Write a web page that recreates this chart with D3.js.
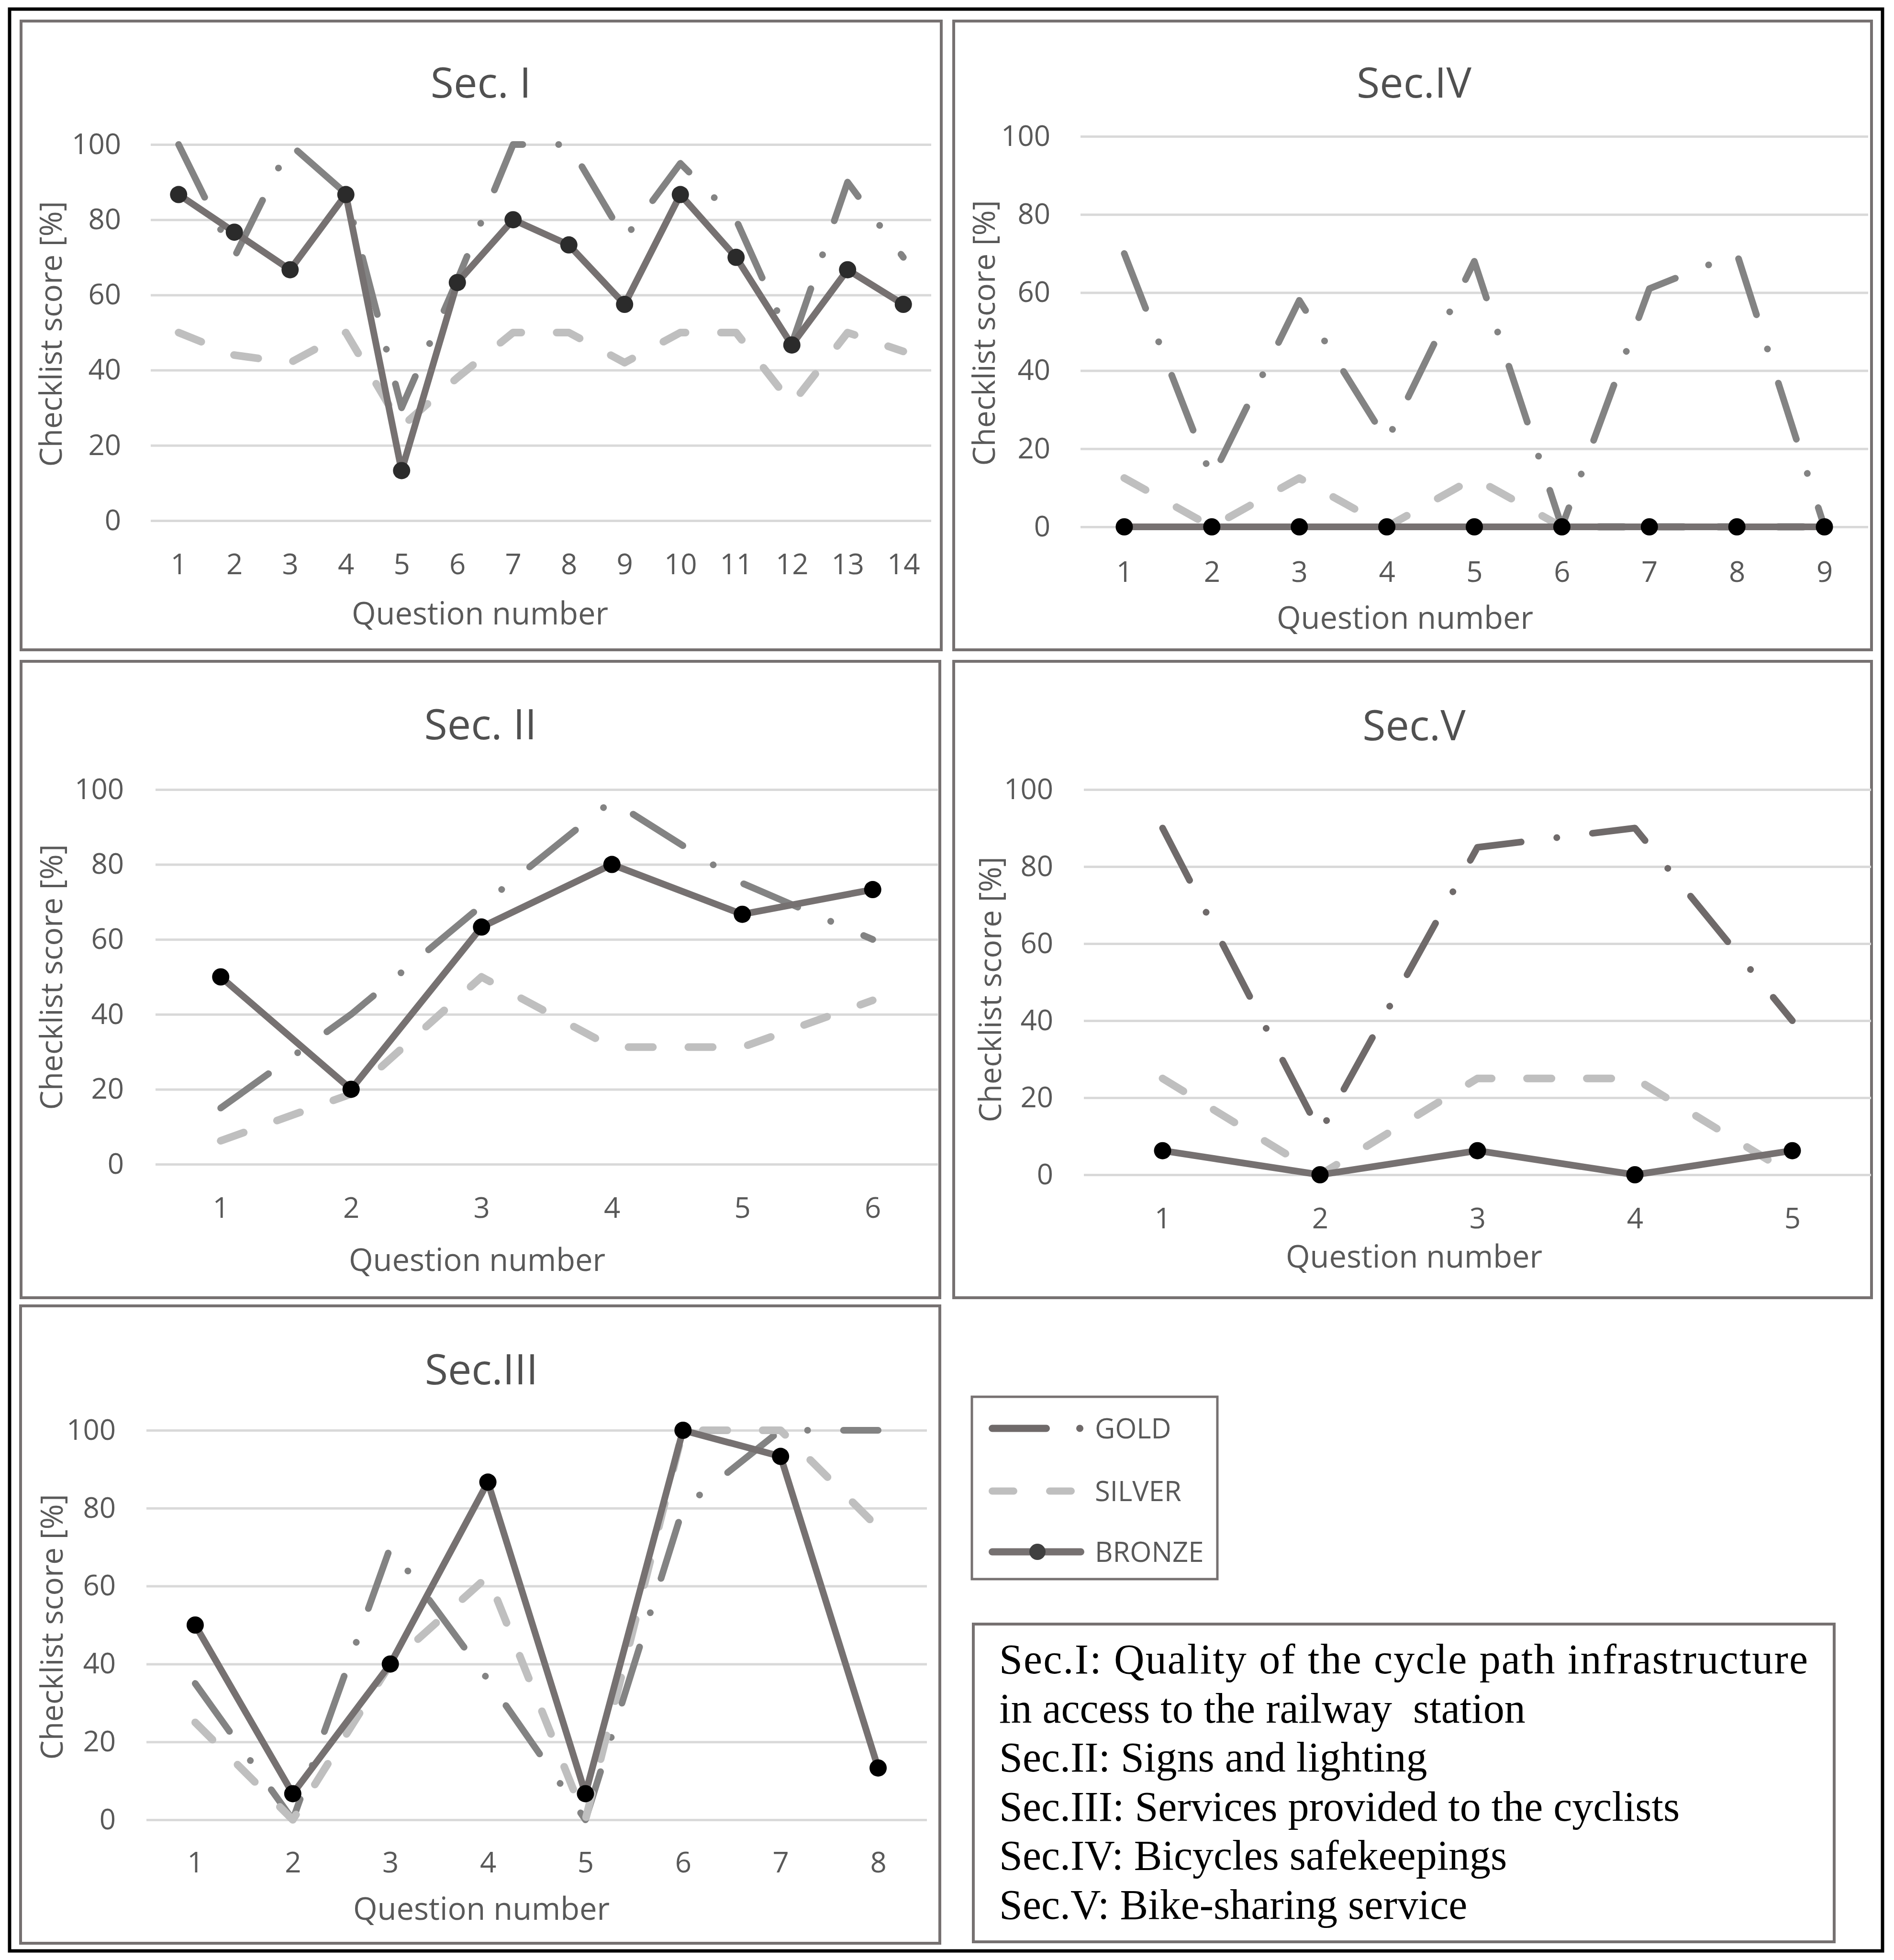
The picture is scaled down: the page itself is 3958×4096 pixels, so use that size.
<!DOCTYPE html>
<html>
<head>
<meta charset="utf-8">
<script src="https://cdn.jsdelivr.net/npm/d3@7/dist/d3.min.js"></script>
<style>
  body { margin: 0; background: #fff; }
  svg { display: block; }
</style>
</head>
<body>
<div id="chart"></div>
<script>
// values (checklist score in %)
const yTicks = [0, 20, 40, 60, 80, 100];
const seriesNames = ['GOLD', 'SILVER', 'BRONZE'];

const sec1Questions = ['1', '2', '3', '4', '5', '6', '7', '8', '9', '10', '11', '12', '13', '14'];
const sec1Gold = [100, 70, 100, 87, 30, 64, 100, 100, 75, 95, 80, 47, 90, 70];
const sec1Silver = [50, 44, 42, 50, 25, 38, 50, 50, 42, 50, 50, 31, 50, 45];
const sec1Bronze = [86.7, 76.7, 66.7, 86.7, 13.3, 63.3, 80, 73.3, 57.5, 86.7, 70, 46.7, 66.7, 57.5];

const sec2Questions = ['1', '2', '3', '4', '5', '6'];
const sec2Gold = [15, 40, 69, 97, 75, 60];
const sec2Silver = [6.25, 18.75, 50, 31.25, 31.25, 43.75];
const sec2Bronze = [50, 20, 63.3, 80, 66.7, 73.3];

const sec3Questions = ['1', '2', '3', '4', '5', '6', '7', '8'];
const sec3Gold = [35, 0, 70, 36, 0, 80, 100, 100];
const sec3Silver = [25, 0, 40, 62.5, 0, 100, 100, 75];
const sec3Bronze = [50, 6.7, 40, 86.7, 6.7, 100, 93.3, 13.3];

const sec4Questions = ['1', '2', '3', '4', '5', '6', '7', '8', '9'];
const sec4Gold = [70, 12.5, 58, 22, 68, 0, 61, 70, 0];
const sec4Silver = [12.5, 0, 12.5, 0, 12.5, 0, 0, 0, 0];
const sec4Bronze = [0, 0, 0, 0, 0, 0, 0, 0, 0];

const sec5Questions = ['1', '2', '3', '4', '5'];
const sec5Gold = [90, 11, 85, 90, 40];
const sec5Silver = [25, 0, 25, 25, 0];
const sec5Bronze = [6.25, 0, 6.25, 0, 6.25];

const descriptionLines = [
  'Sec.I: Quality of the cycle path infrastructure',
  'in access to the railway  station',
  'Sec.II: Signs and lighting',
  'Sec.III: Services provided to the cyclists',
  'Sec.IV: Bicycles safekeepings',
  'Sec.V: Bike-sharing service'
];

const width = 3958;
const height = 4096;
const labelColor = '#595959';
const frameColor = '#767171';

const svg = d3.select('#chart')
  .append('svg')
  .attr('width', width)
  .attr('height', height)
  .attr('viewBox', `0 0 ${width} ${height}`);

// outer frame
svg.append('rect')
  .attr('x', 20).attr('y', 19)
  .attr('width', 3914).attr('height', 4058)
  .attr('fill', 'none').attr('stroke', '#000').attr('stroke-width', 7);

// layout of each small chart
const panels = [
  { title: 'Sec. I', questions: sec1Questions, series: [sec1Gold, sec1Silver, sec1Bronze],
    box: [44, 44, 1967, 1358], xr: [315, 1946], yr: [302, 1088], tickRight: 253,
    xLabelY: 1178, xTitle: [1003, 1282], titleAt: [1005, 172], yTitleAt: [106, 698],
    goldColor: '#838383', dotColor: '#2b2b2b' },
  { title: 'Sec.IV', questions: sec4Questions, series: [sec4Gold, sec4Silver, sec4Bronze],
    box: [1993, 44, 3911, 1358], xr: [2258, 3904], yr: [285, 1101], tickRight: 2195,
    xLabelY: 1194, xTitle: [2936, 1291], titleAt: [2955, 172], yTitleAt: [2056, 696],
    goldColor: '#838383', dotColor: '#000' },
  { title: 'Sec. II', questions: sec2Questions, series: [sec2Gold, sec2Silver, sec2Bronze],
    box: [44, 1382, 1964, 2712], xr: [325, 1960], yr: [1650, 2433], tickRight: 259,
    xLabelY: 2523, xTitle: [997, 2633], titleAt: [1004, 1513], yTitleAt: [107, 2042],
    goldColor: '#838383', dotColor: '#000' },
  { title: 'Sec.V', questions: sec5Questions, series: [sec5Gold, sec5Silver, sec5Bronze],
    box: [1993, 1382, 3911, 2712], xr: [2265, 3910], yr: [1650, 2455], tickRight: 2201,
    xLabelY: 2545, xTitle: [2955, 2626], titleAt: [2955, 1515], yTitleAt: [2069, 2068],
    goldColor: '#6f6a6a', dotColor: '#000' },
  { title: 'Sec.III', questions: sec3Questions, series: [sec3Gold, sec3Silver, sec3Bronze],
    box: [43, 2729, 1964, 4061], xr: [306, 1937], yr: [2989, 3803], tickRight: 242,
    xLabelY: 3891, xTitle: [1006, 3989], titleAt: [1006, 2861], yTitleAt: [108, 3400],
    goldColor: '#838383', dotColor: '#000' }
];

panels.forEach(drawPanel);

function drawPanel(p) {
  const g = svg.append('g');

  g.append('rect')
    .attr('x', p.box[0]).attr('y', p.box[1])
    .attr('width', p.box[2] - p.box[0]).attr('height', p.box[3] - p.box[1])
    .attr('fill', 'none').attr('stroke', frameColor).attr('stroke-width', 6);

  const x = d3.scalePoint().domain(p.questions).range(p.xr).padding(0.5);
  const y = d3.scaleLinear().domain([0, 100]).range([p.yr[1], p.yr[0]]);

  // gridlines with the y labels
  g.append('g')
    .attr('transform', `translate(${p.xr[0]},0)`)
    .call(d3.axisLeft(y).tickValues(yTicks)
      .tickSize(-(p.xr[1] - p.xr[0]))
      .tickPadding(p.xr[0] - p.tickRight))
    .call(a => a.select('.domain').remove())
    .call(a => a.selectAll('line').attr('stroke', '#d9d9d9').attr('stroke-width', 5))
    .call(a => a.selectAll('text')
      .attr('font-family', 'Open Sans, sans-serif')
      .attr('font-size', 60)
      .attr('fill', labelColor));

  g.append('g')
    .attr('transform', `translate(0,${p.yr[1]})`)
    .call(d3.axisBottom(x).tickSize(0))
    .call(a => a.select('.domain').remove())
    .call(a => a.selectAll('text')
      .attr('y', p.xLabelY - p.yr[1])
      .attr('dy', '0.36em')
      .attr('font-family', 'Open Sans, sans-serif')
      .attr('font-size', 60)
      .attr('fill', labelColor));

  const line = d3.line()
    .x(d => x(d.q))
    .y(d => y(d.v));

  const rows = p.series.map(vals => p.questions.map((q, i) => ({ q, v: vals[i] })));

  // GOLD: long dash dot
  g.append('path')
    .datum(rows[0])
    .attr('d', line)
    .attr('fill', 'none')
    .attr('stroke', p.goldColor)
    .attr('stroke-width', 14)
    .attr('stroke-linecap', 'round')
    .attr('stroke-linejoin', 'round')
    .attr('stroke-dasharray', '123 75 0.1 75');

  // SILVER: dashed
  g.append('path')
    .datum(rows[1])
    .attr('d', line)
    .attr('fill', 'none')
    .attr('stroke', '#bfbfbf')
    .attr('stroke-width', 16)
    .attr('stroke-linecap', 'round')
    .attr('stroke-linejoin', 'round')
    .attr('stroke-dasharray', '51 74');

  // BRONZE: solid with markers
  g.append('path')
    .datum(rows[2])
    .attr('d', line)
    .attr('fill', 'none')
    .attr('stroke', '#767171')
    .attr('stroke-width', 14)
    .attr('stroke-linejoin', 'round');

  g.selectAll('circle.dot')
    .data(rows[2])
    .join('circle')
    .attr('class', 'dot')
    .attr('cx', d => x(d.q))
    .attr('cy', d => y(d.v))
    .attr('r', 18)
    .attr('fill', p.dotColor);

  g.append('text')
    .attr('x', p.titleAt[0]).attr('y', p.titleAt[1])
    .attr('dy', '0.36em')
    .attr('text-anchor', 'middle')
    .attr('font-family', 'Open Sans, sans-serif')
    .attr('font-size', 88)
    .attr('fill', '#505050')
    .text(p.title);

  g.append('text')
    .attr('x', p.xTitle[0]).attr('y', p.xTitle[1])
    .attr('dy', '0.36em')
    .attr('text-anchor', 'middle')
    .attr('font-family', 'Open Sans, sans-serif')
    .attr('font-size', 65)
    .attr('fill', labelColor)
    .text('Question number');

  g.append('text')
    .attr('transform', `translate(${p.yTitleAt[0]},${p.yTitleAt[1]}) rotate(-90)`)
    .attr('dy', '0.36em')
    .attr('text-anchor', 'middle')
    .attr('font-family', 'Open Sans, sans-serif')
    .attr('font-size', 64)
    .attr('fill', labelColor)
    .text('Checklist score [%]');
}

// legend
const legend = svg.append('g');
legend.append('rect')
  .attr('x', 2031).attr('y', 2919)
  .attr('width', 513).attr('height', 381)
  .attr('fill', 'none').attr('stroke', frameColor).attr('stroke-width', 5);

const legendRows = [2985, 3116, 3243];
const legendDash = ['113 70 0.1 200', '45 75', null];
const legendColor = ['#6f6a6a', '#bfbfbf', '#767171'];
const legendEnd = [2257.1, 2239.5, 2258.5];

seriesNames.forEach((name, i) => {
  legend.append('line')
    .attr('x1', 2073.5).attr('x2', legendEnd[i])
    .attr('y1', legendRows[i]).attr('y2', legendRows[i])
    .attr('stroke', legendColor[i])
    .attr('stroke-width', 15)
    .attr('stroke-linecap', 'round')
    .attr('stroke-dasharray', legendDash[i]);
  legend.append('text')
    .attr('x', 2288).attr('y', legendRows[i])
    .attr('dy', '0.36em')
    .attr('font-family', 'Open Sans, sans-serif')
    .attr('font-size', 58)
    .attr('fill', labelColor)
    .text(name);
});
legend.append('circle')
  .attr('cx', 2168).attr('cy', legendRows[2])
  .attr('r', 17).attr('fill', '#404040');

// section descriptions
const desc = svg.append('g');
desc.append('rect')
  .attr('x', 2034).attr('y', 3394)
  .attr('width', 1799).attr('height', 664)
  .attr('fill', 'none').attr('stroke', frameColor).attr('stroke-width', 6);

desc.selectAll('text')
  .data(descriptionLines)
  .join('text')
  .attr('x', 2088)
  .attr('y', (d, i) => 3497 + i * 102.5)
  .attr('font-family', 'Liberation Serif, serif')
  .attr('font-size', 88)
  .attr('fill', '#000')
  .attr('xml:space', 'preserve')
  .style('white-space', 'pre')
  .attr('textLength', (d, i) => i === 0 ? 1690 : null)
  .attr('lengthAdjust', 'spacing')
  .text(d => d);
</script>
</body>
</html>
